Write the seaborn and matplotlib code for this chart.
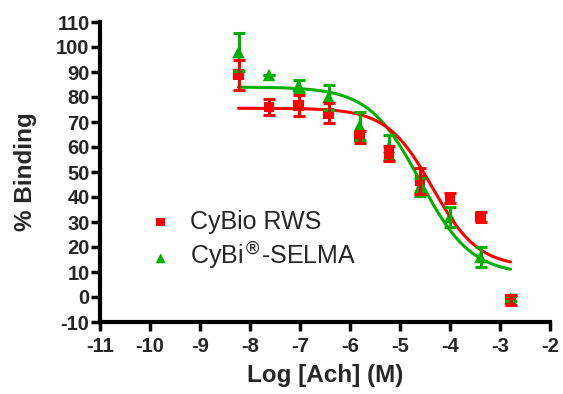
import numpy as np
import pandas as pd
import matplotlib
matplotlib.use("Agg")
import matplotlib.pyplot as plt
import seaborn as sns

# data (mean +/- error)
log_ach = [-8.23, -7.62, -7.03, -6.43, -5.81, -5.22, -4.60, -4.00, -3.39, -2.79]
rws_mean = [89.0, 76.0, 76.5, 73.5, 64.0, 57.5, 46.5, 39.5, 32.0, -1.0]
rws_err = [6.0, 3.3, 4.2, 4.0, 2.3, 3.0, 5.3, 2.0, 2.0, 2.0]
selma_mean = [98.0, 88.8, 84.5, 80.0, 68.5, 60.0, 44.0, 32.0, 16.0, -0.5]
selma_err = [7.5, 0.0, 2.5, 5.0, 5.5, 5.0, 3.5, 4.0, 4.0, 1.0]

# sigmoid fit parameters: top, bottom, logEC50, hill slope
rws_fit = [75.5, 12.0, -4.35, 0.95]
selma_fit = [84.0, 9.0, -4.60, 0.85]

labels = ["CyBio RWS", "CyBi$^{\u00AE}$-SELMA"]
red = "#FF0000"
green = "#00B000"


def sigmoid(x, top, bottom, logec50, hill):
    return bottom + (top - bottom) / (1 + 10 ** (hill * (x - logec50)))


sns.set_style("ticks")
plt.rcParams["font.family"] = ["Liberation Sans", "DejaVu Sans"]
plt.rcParams["axes.unicode_minus"] = False

fig = plt.figure(figsize=(5.63, 3.94), dpi=100)
ax = fig.add_axes([100 / 563, 1 - 322 / 394, 450 / 563, 300 / 394])

xs = np.linspace(log_ach[0], log_ach[-1], 200)
curves = pd.DataFrame({
    "x": np.concatenate([xs, xs]),
    "y": np.concatenate([sigmoid(xs, *selma_fit), sigmoid(xs, *rws_fit)]),
    "set": ["selma"] * len(xs) + ["rws"] * len(xs),
})
sns.lineplot(data=curves, x="x", y="y", hue="set", palette={"selma": green, "rws": red},
             linewidth=2.2, legend=False, ax=ax)

# green first, red on top
ax.errorbar(log_ach, selma_mean, yerr=selma_err, fmt="none", ecolor=green,
            elinewidth=2.2, capsize=4, capthick=2.2)
sns.scatterplot(x=log_ach, y=selma_mean, marker="^", s=80, color=green,
                edgecolor="none", ax=ax, label=labels[1])
ax.errorbar(log_ach, rws_mean, yerr=rws_err, fmt="none", ecolor=red,
            elinewidth=2.2, capsize=4, capthick=2.2)
sns.scatterplot(x=log_ach, y=rws_mean, marker="s", s=60, color=red,
                edgecolor="none", ax=ax, label=labels[0])

ax.set_xlim(-11, -2)
ax.set_ylim(-10, 110)
ax.set_xticks(range(-11, -1))
ax.set_yticks(range(-10, 111, 10))
ax.set_xlabel("Log [Ach] (M)", fontsize=17.5, fontweight="bold", labelpad=6)
ax.set_ylabel("% Binding", fontsize=17.5, fontweight="bold", labelpad=14)
for lab in ax.get_xticklabels() + ax.get_yticklabels():
    lab.set_fontweight("bold")
ax.tick_params(labelsize=14.5, width=2.5, length=6.5, color="black")
ax.tick_params(axis="x", pad=4)
ax.tick_params(axis="y", pad=1)
for side in ["top", "right"]:
    ax.spines[side].set_visible(False)
for side in ["left", "bottom"]:
    ax.spines[side].set_linewidth(3)
    ax.spines[side].set_color("black")

h, l = ax.get_legend_handles_labels()
ax.legend(h[::-1], l[::-1], loc="center left", bbox_to_anchor=(0.057, 0.27),
          frameon=False, fontsize=18, handlelength=1.0, handletextpad=0.66,
          labelspacing=0.25, markerscale=0.8)

fig.savefig("out.png", dpi=100)
